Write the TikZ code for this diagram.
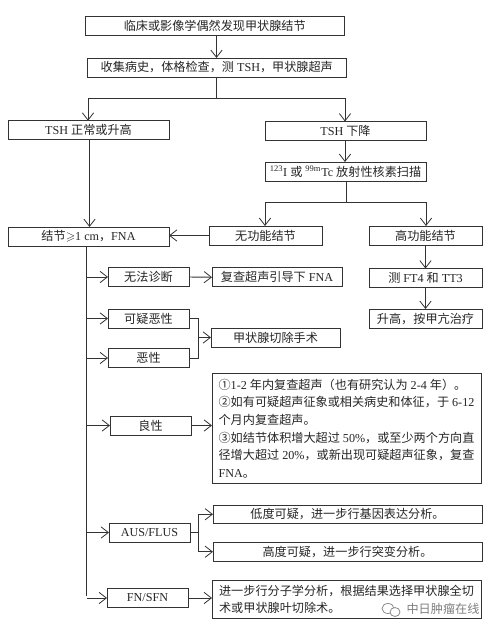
\documentclass[tikz,border=0pt]{standalone}
\usepackage{amssymb}
\usepackage{fontspec}
\setmainfont{Liberation Serif}
\newfontfamily\cjk{Noto Sans CJK SC}
\newcommand{\zh}[1]{{\cjk #1}}
\usetikzlibrary{arrows.meta}
\definecolor{ink}{HTML}{333333}
\tikzset{
  bx/.style 2 args={draw=ink,line width=0.7pt,fill=white,inner sep=0pt,outer sep=0pt,
    minimum width=#1*0.75pt,minimum height=#2*0.75pt,align=center,text=black!85,
    font=\fontsize{9.1}{13}\selectfont},
  conn/.style={draw=ink,line width=0.7pt},
  arr/.style={conn,-{Straight Barb[length=5.5pt,width=8.5pt,line width=0.6pt]}},
}
\begin{document}
\begin{tikzpicture}[x=0.75pt,y=-0.75pt]
\useasboundingbox[fill=white] (0,0) rectangle (494,630);
% boxes
\node[bx={258.5}{18.5}] (a) at (214.75,25.75) {\zh{临床或影像学偶然发现甲状腺结节}};
\node[bx={258.5}{19}] (b) at (216.75,67.5) {\zh{收集病史，体格检查，测} TSH\zh{，甲状腺超声}};
\node[bx={161}{18.5}] (n) at (88.5,130) {TSH \zh{正常或升高}};
\node[bx={161}{18.5}] (d) at (345.5,130.75) {TSH \zh{下降}};
\node[bx={161}{19}] (s) at (345.5,171.5) {\textsuperscript{123}I \zh{或} \textsuperscript{99m}Tc \zh{放射性核素扫描}};
\node[bx={113}{19}] (nf) at (265.5,235.5) {\zh{无功能结节}};
\node[bx={113}{19}] (hf) at (425.5,235.5) {\zh{高功能结节}};
\node[bx={161}{19}] (f) at (88.5,236.5) {\zh{结节}$\geqslant$1 cm\zh{，}FNA};
\node[bx={81}{19}] (u) at (148.5,277) {\zh{无法诊断}};
\node[bx={130}{19}] (r) at (277,277.25) {\zh{复查超声引导下} FNA};
\node[bx={113}{19}] (t) at (425.5,278) {\zh{测} FT4 \zh{和} TT3};
\node[bx={113}{19}] (h) at (425.5,318.5) {\zh{升高，按甲亢治疗}};
\node[bx={81}{19}] (q) at (148.5,318.5) {\zh{可疑恶性}};
\node[bx={81}{19}] (m) at (148.5,358) {\zh{恶性}};
\node[bx={129}{19}] (c) at (275.5,337.5) {\zh{甲状腺切除手术}};
\node[bx={81}{19}] (g) at (150.5,425.5) {\zh{良性}};
\node[bx={269}{110},align=left,font=\fontsize{9.1}{13.2}\selectfont] (gt) at (346.5,428.5) {\zh{①}1-2 \zh{年内复查超声（也有研究认为} 2-4 \zh{年）。}\\
\zh{②如有可疑超声征象或相关病史和体征，于} 6-12\\
\zh{个月内复查超声。}\\
\zh{③如结节体积增大超过} 50\%\zh{，或至少两个方向直}\\
\zh{径增大超过} 20\%\zh{，或新出现可疑超声征象，复查}\\
FNA\zh{。}};
\node[bx={81}{19}] (au) at (149.5,532.5) {AUS/FLUS};
\node[bx={269}{18.5}] (lo) at (347.5,514.25) {\zh{低度可疑，进一步行基因表达分析。}};
\node[bx={269}{18.5}] (hi) at (347.5,551.75) {\zh{高度可疑，进一步行突变分析。}};
\node[bx={81}{19}] (fn) at (147.5,598) {FN/SFN};
\node[bx={269}{38},align=left,font=\fontsize{9.1}{12.6}\selectfont] (ft) at (346.5,599.5) {\zh{进一步行分子学分析，根据结果选择甲状腺全切}\\
\zh{术或甲状腺叶切除术。}\hspace{8.6em}\mbox{}};
% junction points
\coordinate (j1) at (216.5,98.5);
\coordinate (jl) at (88,98.5);
\coordinate (jr) at (345,98.5);
\coordinate (j2) at (346,202);
\coordinate (j2l) at (265,202);
\coordinate (j2r) at (426,202);
\coordinate (st) at (86.5,596);
\coordinate (j3) at (198,337.5);
\coordinate (j4) at (198.5,532.5);
% top of flow
\draw[arr] (a.south -| j1) -- (b.north -| j1);
\draw[conn] (b.south -| j1) -- (j1);
\draw[conn] (jl) -- (jr);
\draw[arr] (jl) -- (n.north -| jl);
\draw[arr] (jr) -- (d.north -| jr);
\draw[arr] (d.south -| jr) -- (s.north -| jr);
\draw[conn] (s.south -| j2) -- (j2);
\draw[conn] (j2l) -- (j2r);
\draw[arr] (j2l) -- (nf.north -| j2l);
\draw[arr] (j2r) -- (hf.north -| j2r);
\draw[arr] ([xshift=0.75pt]n.south) -- ([xshift=0.75pt]f.north);
\draw[arr] (nf.west) -- (f.east |- nf.west);
\draw[arr] (hf.south) -- (t.north);
\draw[arr] (t.south) -- (h.north);
% FNA stem
\draw[conn] (f.south -| st) -- (st);
\draw[arr] (u.west -| st) -- (u.west);
\draw[arr] (q.west -| st) -- (q.west);
\draw[arr] (m.west -| st) -- (m.west);
\draw[arr] (g.west -| st) -- (g.west);
\draw[arr] (au.west -| st) -- (au.west);
\draw[arr] (fn.west -| st) -- (fn.west);
\draw[arr] (u.east) -- (r.west);
% surgery join
\draw[conn] (q.east) -- (q.east -| j3) -- (m.east -| j3) -- (m.east);
\draw[arr] (j3) -- (c.west);
\draw[arr] (g.east) -- (gt.west |- g.east);
\draw[conn] (au.east) -- (j4);
\draw[arr] (j4) |- (lo.west);
\draw[arr] (j4) |- (hi.west);
\draw[arr] (fn.east) -- (ft.west |- fn.east);
% watermark
\draw[black!45,line width=0.6pt,fill=white] (388,608.5) ellipse [x radius=6,y radius=5];
\draw[black!45,line width=0.6pt,fill=white] (395,612) ellipse [x radius=5,y radius=4.5];
\node[text=black!50,inner sep=0pt,font=\fontsize{9.1}{11}\selectfont] (w) at (443,609) {\zh{中日肿瘤在线}};
\end{tikzpicture}
\end{document}
